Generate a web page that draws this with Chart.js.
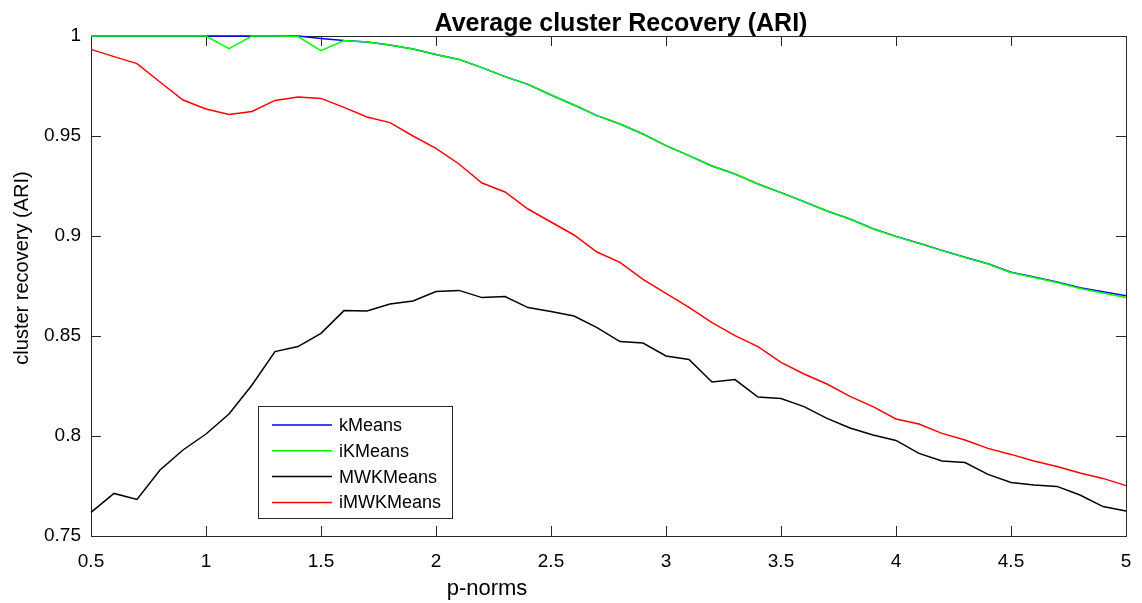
<!DOCTYPE html>
<html>
<head>
<meta charset="utf-8">
<script src="https://cdn.jsdelivr.net/npm/chart.js@4.4.1/dist/chart.umd.min.js"></script>
<style>
	html, body { margin: 0; padding: 0; background: #fff; }
	#wrap { width: 1142px; height: 603px; }
</style>
</head>
<body>
<div id="wrap"><canvas id="chartAri"></canvas></div>
<script>
const pNorms = [
	0.5, 0.6, 0.7, 0.8, 0.9, 1.0, 1.1, 1.2, 1.3, 1.4,
	1.5, 1.6, 1.7, 1.8, 1.9, 2.0, 2.1, 2.2, 2.3, 2.4,
	2.5, 2.6, 2.7, 2.8, 2.9, 3.0, 3.1, 3.2, 3.3, 3.4,
	3.5, 3.6, 3.7, 3.8, 3.9, 4.0, 4.1, 4.2, 4.3, 4.4,
	4.5, 4.6, 4.7, 4.8, 4.9, 5.0,
];

const kMeans = [
	1.0, 1.0, 1.0, 1.0, 1.0, 1.0, 1.0, 1.0, 1.0, 1.0,
	0.9988, 0.9977, 0.997, 0.9955, 0.9935, 0.9908, 0.9883, 0.9842, 0.9797, 0.9758,
	0.9705, 0.9655, 0.9602, 0.956, 0.951, 0.9452, 0.9402, 0.935, 0.931, 0.926,
	0.9217, 0.9172, 0.9125, 0.9085, 0.9037, 0.8998, 0.8964, 0.8928, 0.8894, 0.8861,
	0.8819, 0.8795, 0.877, 0.8741, 0.8721, 0.8701,
];

const iKMeans = [
	1.0, 1.0, 1.0, 1.0, 1.0, 1.0, 0.9937, 1.0, 1.0, 0.9997,
	0.9927, 0.9977, 0.997, 0.9955, 0.9935, 0.9908, 0.9883, 0.9842, 0.9797, 0.9758,
	0.9705, 0.9655, 0.9602, 0.956, 0.951, 0.9452, 0.9402, 0.935, 0.931, 0.926,
	0.9217, 0.9172, 0.9125, 0.9085, 0.9035, 0.8997, 0.8963, 0.8927, 0.8893, 0.886,
	0.8817, 0.8793, 0.8768, 0.8738, 0.8715, 0.8693,
];

const mwkMeans = [
	0.7618, 0.7713, 0.7683, 0.783, 0.793, 0.801, 0.811, 0.8255, 0.8422, 0.8447,
	0.8513, 0.8627, 0.8625, 0.866, 0.8675, 0.8722, 0.8728, 0.8692, 0.8697, 0.8642,
	0.8622, 0.86, 0.8542, 0.8472, 0.8465, 0.84, 0.8383, 0.827, 0.8282, 0.8195,
	0.8187, 0.8147, 0.8088, 0.804, 0.8005, 0.7978, 0.7913, 0.7875, 0.7867, 0.7808,
	0.7768, 0.7755, 0.7748, 0.7705, 0.7647, 0.7625,
];

const imwkMeans = [
	0.9933, 0.9897, 0.9862, 0.977, 0.968, 0.9635, 0.9607, 0.9623, 0.9678, 0.9695,
	0.9688, 0.9643, 0.9595, 0.9567, 0.95, 0.9438, 0.936, 0.9265, 0.922, 0.9135,
	0.907, 0.9005, 0.892, 0.8868, 0.8783, 0.8713, 0.8643, 0.8567, 0.8502, 0.8447,
	0.8368, 0.831, 0.826, 0.8198, 0.8147, 0.8085, 0.806, 0.8013, 0.798, 0.7938,
	0.7908, 0.7875, 0.7847, 0.7815, 0.7788, 0.7752,
];

const xTicks = [0.5, 1, 1.5, 2, 2.5, 3, 3.5, 4, 4.5, 5];
const yTicks = [0.75, 0.8, 0.85, 0.9, 0.95, 1];

const FONT = "'Liberation Sans', Arial, Helvetica, sans-serif";
const AXIS_COLOR = "#262626";

const toPoints = (ys) => ys.map((y, i) => ({ x: pNorms[i], y }));

const series = [
	{ label: "kMeans", data: kMeans, color: "#0000ff" },
	{ label: "iKMeans", data: iKMeans, color: "#00ff00" },
	{ label: "MWKMeans", data: mwkMeans, color: "#000000" },
	{ label: "iMWKMeans", data: imwkMeans, color: "#ff0000" },
];

// box around the axes with inward ticks on all four sides, plus legend and labels
const boxAxes = {
	id: "boxAxes",
	beforeDatasetsDraw(chart) {
		const { ctx, chartArea: a, scales } = chart;
		const tick = 10;
		ctx.save();
		ctx.strokeStyle = AXIS_COLOR;
		ctx.lineWidth = 1;
		ctx.strokeRect(a.left + 0.5, a.top + 0.5, a.right - a.left, a.bottom - a.top);
		ctx.beginPath();
		xTicks.forEach((v) => {
			const px = Math.round(scales.x.getPixelForValue(v)) + 0.5;
			ctx.moveTo(px, a.bottom);
			ctx.lineTo(px, a.bottom - tick);
			ctx.moveTo(px, a.top);
			ctx.lineTo(px, a.top + tick);
		});
		yTicks.forEach((v) => {
			const py = Math.round(scales.y.getPixelForValue(v)) + 0.5;
			ctx.moveTo(a.left, py);
			ctx.lineTo(a.left + tick, py);
			ctx.moveTo(a.right, py);
			ctx.lineTo(a.right - tick, py);
		});
		ctx.stroke();
		ctx.restore();
	},
	afterDatasetsDraw(chart) {
		const { ctx } = chart;
		// legend box, lower left inside the axes
		const lx = 258, ly = 406, lw = 194, lh = 112;
		ctx.save();
		ctx.fillStyle = "#fff";
		ctx.fillRect(lx, ly, lw, lh);
		ctx.strokeStyle = AXIS_COLOR;
		ctx.lineWidth = 1;
		ctx.strokeRect(lx + 0.5, ly + 0.5, lw, lh);
		ctx.font = "18px " + FONT;
		ctx.textBaseline = "middle";
		ctx.fillStyle = "#000";
		series.forEach((s, i) => {
			const y = ly + 19 + i * 25.8;
			ctx.strokeStyle = s.color;
			ctx.lineWidth = 1.5;
			ctx.beginPath();
			ctx.moveTo(lx + 14, y);
			ctx.lineTo(lx + 74, y);
			ctx.stroke();
			ctx.fillText(s.label, lx + 81, y + 1);
		});

		// title and axis labels
		ctx.textAlign = "center";
		ctx.textBaseline = "alphabetic";
		ctx.font = "bold 25px " + FONT;
		ctx.fillText("Average cluster Recovery (ARI)", 621, 31);
		ctx.font = "22px " + FONT;
		ctx.fillText("p-norms", 487, 595);
		ctx.translate(28, 268);
		ctx.rotate(-Math.PI / 2);
		ctx.font = "20px " + FONT;
		ctx.fillText("cluster recovery (ARI)", 0, 0);
		ctx.restore();
	},
};

new Chart(document.getElementById("chartAri"), {
	type: "line",
	data: {
		datasets: series.map((s, i) => ({
			label: s.label,
			data: toPoints(s.data),
			borderColor: s.color,
			backgroundColor: s.color,
			borderWidth: 1.5,
			pointRadius: 0,
			tension: 0,
			clip: false,
			order: series.length - i,
		})),
	},
	options: {
		responsive: true,
		maintainAspectRatio: false,
		animation: false,
		layout: { padding: { top: 36, right: 16, left: 0, bottom: 0 } },
		plugins: {
			legend: { display: false },
			title: { display: false },
			tooltip: { enabled: false },
		},
		scales: {
			x: {
				type: "linear",
				min: 0.5,
				max: 5,
				grid: { display: false, drawTicks: false },
				border: { display: false },
				afterBuildTicks: (scale) => {
					scale.ticks = xTicks.map((value) => ({ value }));
				},
				afterFit: (scale) => {
					scale.height = 67;
					scale.paddingLeft = 0;
					scale.paddingRight = 0;
				},
				ticks: {
					padding: 14,
					color: "#000",
					font: { family: FONT, size: 19 },
					maxRotation: 0,
					callback: (v) => String(v),
				},
			},
			y: {
				type: "linear",
				min: 0.75,
				max: 1,
				grid: { display: false, drawTicks: false },
				border: { display: false },
				afterBuildTicks: (scale) => {
					scale.ticks = yTicks.map((value) => ({ value }));
				},
				afterFit: (scale) => {
					scale.width = 91;
					scale.paddingTop = 0;
					scale.paddingBottom = 0;
				},
				ticks: {
					padding: 10,
					color: "#000",
					font: { family: FONT, size: 19 },
					callback: (v) => String(v),
				},
			},
		},
	},
	plugins: [boxAxes],
});
</script>
</body>
</html>
